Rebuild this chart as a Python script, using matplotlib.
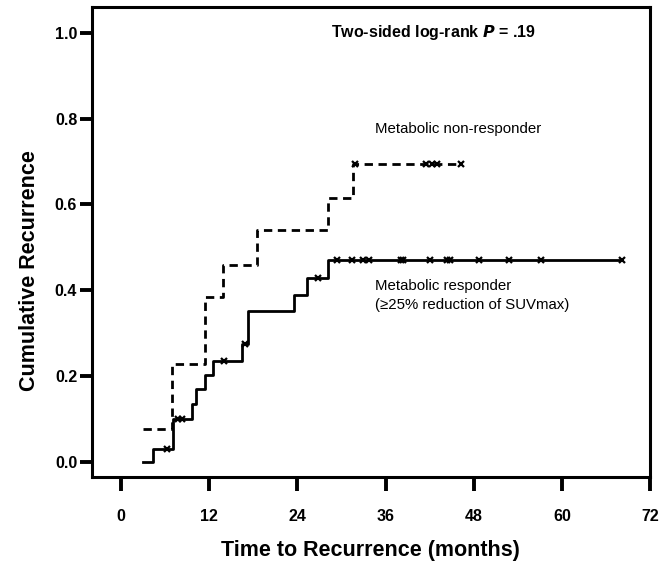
import numpy as np
import matplotlib
matplotlib.use('Agg')
import matplotlib.pyplot as plt

#======================================================================================
#data
#Metabolic responder (solid)
respTimes    = [3.0, 4.4, 7.1, 9.6, 10.2, 11.4, 12.5, 16.4, 17.3, 23.5, 25.3, 28.1, 68.2]
respValues   = [0.0, 0.03, 0.10, 0.136, 0.17, 0.203, 0.236, 0.276, 0.353, 0.39, 0.428, 0.47, 0.47]
respCensored = [6.3, 7.8, 8.3, 14.0, 16.8, 26.8, 29.4, 31.4, 32.9, 33.8, 38.1, 38.4,
                42.0, 44.4, 44.8, 48.7, 52.8, 57.1, 68.2]

#Metabolic non-responder (dashed)
nonTimes    = [3.0, 6.9, 11.4, 13.9, 18.5, 28.2, 31.6, 46.3]
nonValues   = [0.077, 0.23, 0.385, 0.46, 0.54, 0.615, 0.695, 0.695]
nonCensored = [31.8, 41.5, 42.3, 43.0, 46.3]

xTicks = [0, 12, 24, 36, 48, 60, 72]
yTicks = [0.0, 0.2, 0.4, 0.6, 0.8, 1.0]
#======================================================================================

plt.rcParams['font.family'] = ['Liberation Sans', 'DejaVu Sans']

def stepValue(times, values, t):
    idx = np.searchsorted(times, t, side='right') - 1
    return values[max(idx, 0)]

fig = plt.figure(figsize=(6.6, 5.63), dpi=100)
ax  = fig.add_axes([0.139, 0.152, 0.846, 0.836])

ax.step(respTimes, respValues, where='post', color='black', lw=2.0)
ax.step(nonTimes, nonValues, where='post', color='black', lw=2.0, linestyle=(0, (3, 2)))

ax.plot(respCensored, [stepValue(respTimes, respValues, t) for t in respCensored],
        linestyle='none', marker='x', color='black', ms=5, mew=1.6)
ax.plot(nonCensored, [stepValue(nonTimes, nonValues, t) for t in nonCensored],
        linestyle='none', marker='x', color='black', ms=5, mew=1.6)

ax.set_xlim(-4, 72)
ax.set_ylim(-0.035, 1.06)
ax.set_xticks(xTicks)
ax.set_yticks(yTicks)
ax.set_yticklabels(['%.1f' % v for v in yTicks])

for s in ax.spines.values():
    s.set_linewidth(2.2)
ax.tick_params(axis='both', direction='out', width=2.8, labelsize=11.5)
ax.tick_params(axis='x', length=10, pad=13)
ax.tick_params(axis='y', length=8.5, pad=2)
for lab in ax.get_xticklabels() + ax.get_yticklabels():
    lab.set_fontweight('bold')

ax.set_xlabel('Time to Recurrence (months)', fontsize=15.5, fontweight='bold')
ax.set_ylabel('Cumulative Recurrence', fontsize=15.5, fontweight='bold')
ax.xaxis.set_label_coords(0.5, -0.134)
ax.yaxis.set_label_coords(-0.092, 0.44)

ax.text(42.5, 1.0, r'Two-sided log-rank $\boldsymbol{P}$ = .19', fontsize=11.5, fontweight='bold',
        ha='center', va='center')
ax.text(34.5, 0.775, 'Metabolic non-responder', fontsize=10.8, ha='left', va='center')
ax.text(34.5, 0.41, 'Metabolic responder', fontsize=10.8, ha='left', va='center')
ax.text(34.5, 0.365, '(\u226525% reduction of SUVmax)', fontsize=10.8, ha='left', va='center')

plt.savefig('out.png', dpi=100)
